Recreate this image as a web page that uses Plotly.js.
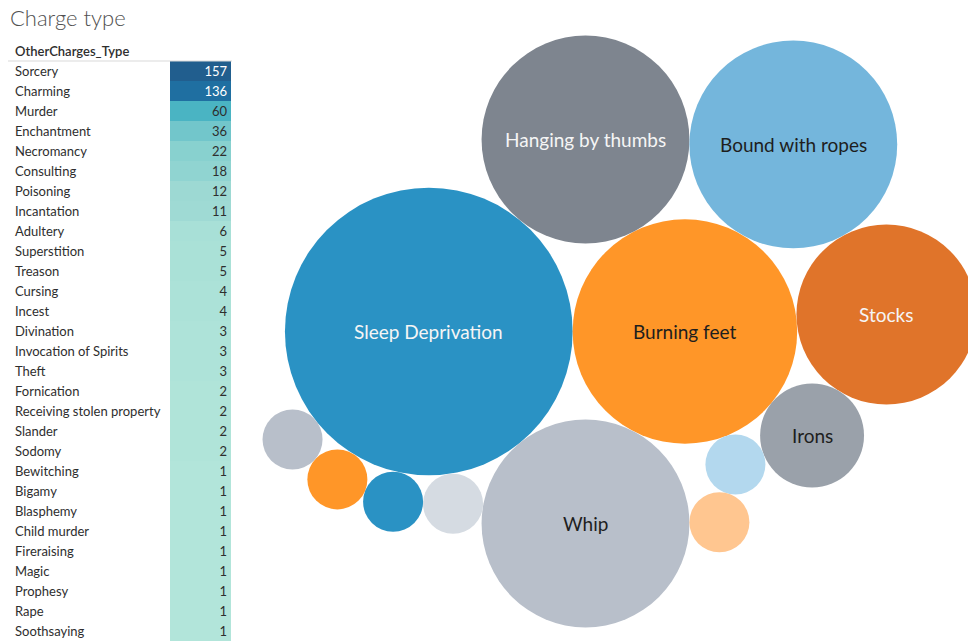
<!DOCTYPE html>
<html>
<head>
<meta charset="utf-8">
<script src="https://cdn.plot.ly/plotly-3.0.1.min.js"></script>
<style>
  html, body { margin: 0; padding: 0; background: #ffffff; }
  #chart { width: 968px; height: 644px; }
</style>
</head>
<body>
<div id="chart"></div>
<script>
// Other charges brought alongside the accusation
const chargeTypes = [
  "Sorcery", "Charming", "Murder", "Enchantment", "Necromancy", "Consulting",
  "Poisoning", "Incantation", "Adultery", "Superstition", "Treason", "Cursing",
  "Incest", "Divination", "Invocation of Spirits", "Theft", "Fornication",
  "Receiving stolen property", "Slander", "Sodomy", "Bewitching", "Bigamy",
  "Blasphemy", "Child murder", "Fireraising", "Magic", "Prophesy", "Rape",
  "Soothsaying"
];
const chargeCounts = [
  157, 136, 60, 36, 22, 18, 12, 11, 6, 5, 5, 4, 4, 3, 3, 3, 2, 2, 2, 2,
  1, 1, 1, 1, 1, 1, 1, 1, 1
];

// Torture methods, most frequent first
const tortureTypes = [
  "Sleep Deprivation", "Burning feet", "Whip", "Hanging by thumbs",
  "Bound with ropes", "Stocks", "Irons", "Pilliwinks", "Boots",
  "Caspie claws", "Thrawing", "Starvation", "Witch's bridle"
];
const tortureCounts = [23, 14, 12, 12, 12, 9, 3, 1, 1, 1, 1, 1, 1];

// ---- styling -------------------------------------------------------------
const FONT = "Lato, 'Open Sans', 'DejaVu Sans', sans-serif";
const W = 968, H = 644;
const PX_PER_ROOT = 30;            // bubble radius in px per sqrt(count)

const bubbleColors = {
  "Sleep Deprivation": "#2a92c4",
  "Burning feet": "#ff9628",
  "Whip": "#b8bfca",
  "Hanging by thumbs": "#7e858f",
  "Bound with ropes": "#74b6dc",
  "Stocks": "#e0742a",
  "Irons": "#9aa1aa",
  "Pilliwinks": "#b3d8ee",
  "Boots": "#ffc690",
  "Caspie claws": "#d5dbe2",
  "Thrawing": "#2a92c4",
  "Starvation": "#ff9628",
  "Witch's bridle": "#b8bfca"
};

// sequential blue-teal ramp for the highlight table
const tableRamp = [
  [0.000, [178, 229, 218]],
  [0.070, [157, 217, 211]],
  [0.135, [136, 209, 207]],
  [0.224, [114, 198, 203]],
  [0.378, [74, 180, 195]],
  [0.865, [31, 111, 161]],
  [1.000, [33, 94, 142]]
];

function hexToRgb(h) {
  const v = parseInt(h.slice(1), 16);
  return [(v >> 16) & 255, (v >> 8) & 255, v & 255];
}
function luminance(rgb) {
  const lin = rgb.map(c => {
    c /= 255;
    return c <= 0.03928 ? c / 12.92 : Math.pow((c + 0.055) / 1.055, 2.4);
  });
  return 0.2126 * lin[0] + 0.7152 * lin[1] + 0.0722 * lin[2];
}
function rampColor(t) {
  for (let i = 1; i < tableRamp.length; i++) {
    const [t1, c1] = tableRamp[i];
    const [t0, c0] = tableRamp[i - 1];
    if (t <= t1) {
      const f = (t - t0) / (t1 - t0);
      const c = c0.map((v, k) => Math.round(v + (c1[k] - v) * f));
      return "rgb(" + c.join(",") + ")";
    }
  }
  return "rgb(" + tableRamp[tableRamp.length - 1][1].join(",") + ")";
}

// ---- front-chain circle packing -------------------------------------------
// Each new circle touches the chain circle nearest the origin and that
// circle's successor; circles cut off by an overlap are dropped from the chain.
function placeTangent(a, b, c) {
  const dx = b.x - a.x, dy = b.y - a.y;
  const d = Math.hypot(dx, dy);
  const ra = a.r + c.r, rb = b.r + c.r;
  const along = (ra * ra - rb * rb + d * d) / (2 * d);
  const h = Math.sqrt(Math.max(0, ra * ra - along * along));
  c.x = a.x + (along * dx + h * dy) / d;
  c.y = a.y + (along * dy - h * dx) / d;
}
function overlaps(a, b) {
  return (a.r + b.r) - Math.hypot(a.x - b.x, a.y - b.y) > 1e-6;
}
function packCircles(radii) {
  const circles = radii.map(r => ({ r: r, x: 0, y: 0 }));
  const n = circles.length;
  if (n < 2) return circles;
  circles[0].x = -circles[0].r;
  circles[1].x = circles[1].r;
  if (n < 3) return circles;
  placeTangent(circles[0], circles[1], circles[2]);

  const mk = c => ({ c: c, next: null, prev: null });
  const n0 = mk(circles[0]), n1 = mk(circles[1]), n2 = mk(circles[2]);
  n0.next = n2; n2.next = n1; n1.next = n0;
  n0.prev = n1; n2.prev = n0; n1.prev = n2;
  let head = n0;

  for (let i = 3; i < n; i++) {
    const c = circles[i];
    let m = head, best = Infinity, p = head;
    do {
      const d = Math.hypot(p.c.x, p.c.y);
      if (d < best - 1e-9) { best = d; m = p; }
      p = p.next;
    } while (p !== head);
    let nx = m.next;

    for (let guard = 0; guard < 500; guard++) {
      placeTangent(m.c, nx.c, c);
      let j = nx.next, s1 = 1, hitJ = null;
      while (j !== m) {
        if (overlaps(j.c, c)) { hitJ = j; break; }
        j = j.next; s1++;
      }
      if (!hitJ) break;
      let k = m.prev, s2 = 1, hitK = hitJ;
      while (k !== nx) {
        if (overlaps(k.c, c)) { hitK = k; break; }
        k = k.prev; s2++;
      }
      if (s1 < s2 || (s1 === s2 && nx.c.r < m.c.r)) {
        m.next = hitJ; hitJ.prev = m; nx = hitJ;
      } else {
        hitK.next = nx; nx.prev = hitK; m = hitK;
      }
      head = m;
    }
    const node = mk(c);
    node.prev = m; node.next = nx; m.next = node; nx.prev = node;
    head = m;
  }
  return circles;
}

// ---- bubbles --------------------------------------------------------------
const order = tortureCounts.map((v, i) => i).sort((a, b) => tortureCounts[b] - tortureCounts[a]);
const names = order.map(i => tortureTypes[i]);
const counts = order.map(i => tortureCounts[i]);
const packed = packCircles(counts.map(v => PX_PER_ROOT * Math.sqrt(v)));

let minX = Infinity, maxX = -Infinity, minY = Infinity, maxY = -Infinity;
packed.forEach(c => {
  minX = Math.min(minX, c.x - c.r); maxX = Math.max(maxX, c.x + c.r);
  minY = Math.min(minY, c.y - c.r); maxY = Math.max(maxY, c.y + c.r);
});
// centre of the bubble pane, in px from the left / bottom of the figure
const paneCx = 619.5, paneCy = H - 331.5;
const cx = (minX + maxX) / 2, cy = (minY + maxY) / 2;

const fills = names.map(nm => bubbleColors[nm]);
const labelColors = fills.map(f => luminance(hexToRgb(f)) < 0.32 ? "#f5f5f5" : "#1e1e1e");

const bubbles = {
  type: "scatter",
  mode: "markers",
  x: packed.map(c => c.x),
  y: packed.map(c => c.y),
  text: names,
  customdata: counts,
  hoverinfo: "skip",
  marker: {
    size: counts,
    sizemode: "area",
    sizeref: 1 / (2 * PX_PER_ROOT * PX_PER_ROOT),
    color: fills,
    opacity: 1,
    line: { width: 0 }
  },
  cliponaxis: false,
  showlegend: false
};

// names only inside bubbles large enough to hold them
const bubbleLabels = packed
  .map((c, i) => ({ c: c, i: i }))
  .filter(d => d.c.r >= 40)
  .map(d => ({
    x: d.c.x, y: d.c.y, xref: "x", yref: "y",
    text: names[d.i],
    showarrow: false,
    font: { family: FONT, size: 19, color: labelColors[d.i] }
  }));

// ---- highlight table --------------------------------------------------------
const maxCount = Math.max(...chargeCounts), minCount = Math.min(...chargeCounts);
const share = v => (v - minCount) / (maxCount - minCount);
const cellFill = chargeCounts.map(v => rampColor(share(v)));
const cellText = chargeCounts.map(v => share(v) > 0.6 ? "#ffffff" : "#2e2e2e");
const clear = "rgba(0,0,0,0)";

const TABLE_TOP = 41, HEAD_H = 20, ROW_H = 20;
const TEXT_LIFT = 3;   // table text sits a little low in its cell; raise it

// coloured cells
const fillTable = {
  type: "table",
  domain: { x: [8 / W, 231 / W], y: [0, (H - TABLE_TOP) / H] },
  columnwidth: [162, 61],
  header: {
    values: ["", ""],
    height: HEAD_H,
    fill: { color: clear },
    line: { color: clear, width: 0 }
  },
  cells: {
    values: [chargeTypes.map(() => ""), chargeCounts.map(() => "")],
    height: ROW_H,
    fill: { color: [chargeTypes.map(() => clear), cellFill] },
    line: { color: clear, width: 0 }
  }
};

// labels and counts
const textTable = {
  type: "table",
  domain: { x: [7 / W, 235 / W], y: [0, (H - TABLE_TOP + TEXT_LIFT) / H] },
  columnwidth: [185, 43],
  header: {
    values: ["OtherCharges_Type", ""],
    align: ["left", "right"],
    height: HEAD_H,
    fill: { color: clear },
    line: { color: clear, width: 0 },
    font: { family: FONT, size: 13, color: "#2e2e2e", weight: 600 }
  },
  cells: {
    values: [chargeTypes, chargeCounts],
    align: ["left", "right"],
    height: ROW_H,
    fill: { color: clear },
    line: { color: clear, width: 0 },
    font: { family: FONT, size: 13, color: [chargeTypes.map(() => "#2e2e2e"), cellText] }
  }
};

const layout = {
  width: W,
  height: H,
  margin: { l: 0, r: 0, t: 0, b: 0 },
  paper_bgcolor: "#ffffff",
  plot_bgcolor: "rgba(0,0,0,0)",
  showlegend: false,
  hovermode: false,
  title: {
    text: "Charge type",
    xref: "container", yref: "container",
    x: 10 / W, xanchor: "left",
    y: 1 - 18 / H, yanchor: "middle",
    font: { family: FONT, size: 22, color: "#505050", weight: 300 }
  },
  xaxis: {
    domain: [0, 1],
    range: [cx - paneCx, cx - paneCx + W],
    visible: false, showgrid: false, zeroline: false, fixedrange: true
  },
  yaxis: {
    domain: [0, 1],
    range: [cy - paneCy, cy - paneCy + H],
    visible: false, showgrid: false, zeroline: false, fixedrange: true
  },
  annotations: bubbleLabels,
  shapes: [{
    type: "line", xref: "paper", yref: "paper",
    x0: 8 / W, x1: 232 / W,
    y0: (H - TABLE_TOP - HEAD_H) / H, y1: (H - TABLE_TOP - HEAD_H) / H,
    line: { color: "#d9d9d9", width: 1 }
  }]
};

Plotly.newPlot("chart", [fillTable, textTable, bubbles], layout, { displayModeBar: false, staticPlot: true });
</script>
</body>
</html>
